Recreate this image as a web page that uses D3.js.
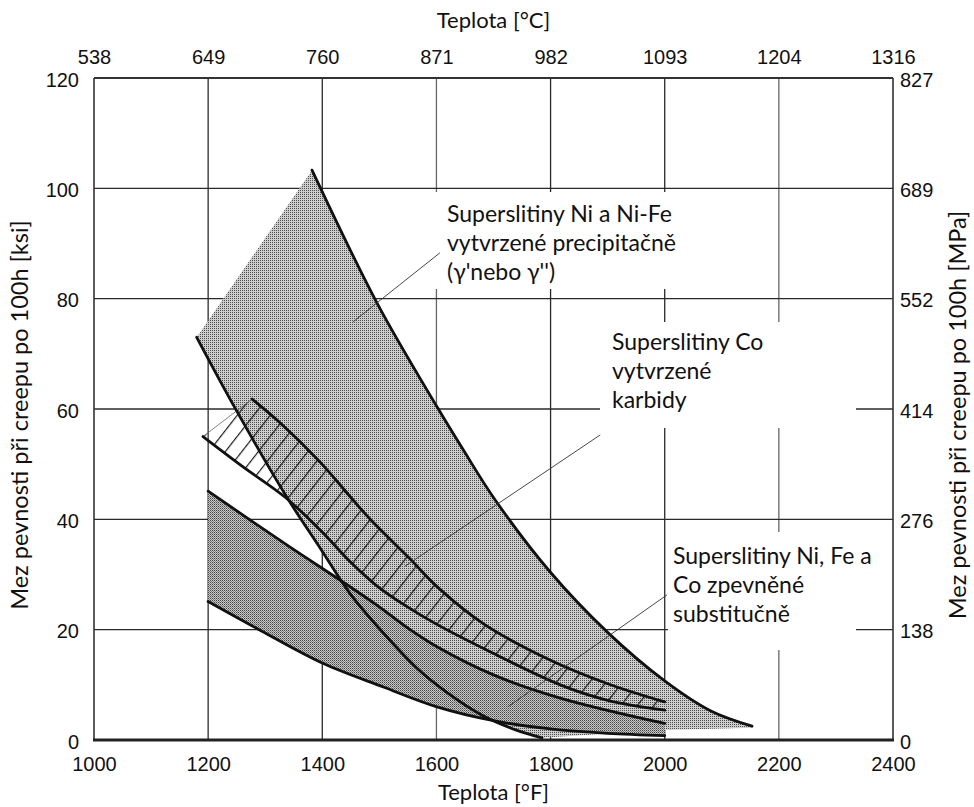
<!DOCTYPE html>
<html><head><meta charset="utf-8">
<script src="https://cdn.jsdelivr.net/npm/d3@7"></script>
<style>
html,body{margin:0;padding:0;background:#fff;}
svg{display:block;}
.tick text{font-family:"Liberation Sans",Arial,sans-serif;font-size:20px;fill:#111;}
.title{font-family:Lato,"Open Sans",sans-serif;font-size:22px;fill:#111;}
.vtitle{font-family:Lato,"Open Sans",sans-serif;font-size:23.5px;fill:#111;}
.ann{font-family:Lato,"Open Sans",sans-serif;font-size:23px;fill:#111;}
</style></head><body>
<svg id="chart" width="974" height="807"></svg>
<script>
// ---- axis ticks / labels ----
const fTicks = [1000,1200,1400,1600,1800,2000,2200,2400];
const cLabels = ["538","649","760","871","982","1093","1204","1316"];
const ksiTicks = [0,20,40,60,80,100,120];
const mpaLabels = ["0","138","276","414","552","689","827"];

// ---- curves (°F, ksi) ----
const niUpperF   = [1382,1496,1601,1647,1703,1799,1899,2000,2080,2153];
const niUpperKsi = [103.3,79.2,60.4,52.6,43.5,30.5,19.6,10.7,5.3,2.5];
const niBottomF   = [2153,2000];
const niBottomKsi = [2.2,1.8];
const steepF   = [1180,1247,1338,1395,1449,1507,1566,1620,1680,1740,1785];
const steepKsi = [73,60.2,44,35,26.5,19.4,13,8.5,4.5,1.8,0.4];
const coUpperF   = [1277,1326,1395,1454,1484,1554,1601,1682,1799,1900,2000];
const coUpperKsi = [61.8,57.5,50.5,43.5,40.0,32.8,27.8,21.1,14.5,10.2,6.9];
const coLowerF   = [1191,1260,1335,1396,1449,1495,1545,1600,1694,1817,1900,2000];
const coLowerKsi = [55,49.6,44,38.1,32.3,28,24.4,21,16,10,7.2,5.4];
const ssUpperF   = [1200,1343,1431,1495,1554,1601,1700,1817,2000];
const ssUpperKsi = [45.1,35,29,24.5,20,16.9,11.8,7.6,3.0];
const ssLowerF   = [1200,1291,1401,1507,1601,1700,1800,1900,2000];
const ssLowerKsi = [25.1,19.9,13.9,9.6,6.0,3.5,2.0,1.2,0.8];

// ---- annotations ----
const labelNi = ["Superslitiny Ni a Ni-Fe","vytvrzené precipitačně","(γ'nebo γ'')"];
const labelCo = ["Superslitiny Co","vytvrzené","karbidy"];
const labelSS = ["Superslitiny Ni, Fe a","Co zpevněné","substitučně"];
const leaderNiF = [1606,1454], leaderNiKsi = [88.3,75.8];
const leaderCoF = [1887,1545], leaderCoKsi = [55.3,31.5];
const leaderSSF = [2004,1725], leaderSSKsi = [26.3,6.0];

const svg = d3.select("#chart");
const L = 94, R = 893, T = 78, B = 740;
const x = d3.scaleLinear().domain([1000,2400]).range([L,R]);
const y = d3.scaleLinear().domain([0,120]).range([B,T]);

svg.append("rect").attr("width",974).attr("height",807).attr("fill","#fff");

// patterns
const defs = svg.append("defs");
const pNi = defs.append("pattern").attr("id","pNi").attr("patternUnits","userSpaceOnUse").attr("width",2).attr("height",2);
pNi.append("rect").attr("width",2).attr("height",2).attr("fill","#cdcdcd");
pNi.append("rect").attr("width",1).attr("height",1).attr("fill","#4e4e4e");
const pSS = defs.append("pattern").attr("id","pSS").attr("patternUnits","userSpaceOnUse").attr("width",2).attr("height",2);
pSS.append("rect").attr("width",2).attr("height",2).attr("fill","#c8c8c8");
pSS.append("rect").attr("width",1).attr("height",1).attr("fill","#444");
pSS.append("rect").attr("x",1).attr("y",1).attr("width",1).attr("height",1).attr("fill","#808080");
const pH = defs.append("pattern").attr("id","pH").attr("patternUnits","userSpaceOnUse")
  .attr("width",13).attr("height",13).attr("patternTransform","rotate(38)");
pH.append("line").attr("x1",0.6).attr("y1",0).attr("x2",0.6).attr("y2",13).attr("stroke","#1a1a1a").attr("stroke-width",1.2);

// gridlines
const grid = svg.append("g");
grid.selectAll(".vg").data(fTicks.slice(1,-1)).join("line")
  .attr("x1",d=>x(d)).attr("x2",d=>x(d)).attr("y1",T).attr("y2",B)
  .attr("stroke",d=>(d===1600||d===2200)?"#666":"#2a2a2a").attr("stroke-width",1.3);
grid.selectAll(".hg").data(ksiTicks.slice(1,-1)).join("line")
  .attr("y1",d=>y(d)).attr("y2",d=>y(d)).attr("x1",L).attr("x2",R)
  .attr("stroke","#2a2a2a").attr("stroke-width",1.3);

// white boxes behind labels
const boxes = [[435,192,277,97],[600,322,256,106],[668,532,188,118]];
svg.append("g").selectAll("rect").data(boxes).join("rect")
  .attr("x",d=>d[0]).attr("y",d=>d[1]).attr("width",d=>d[2]).attr("height",d=>d[3]).attr("fill","#fff");

const lineC = d3.line().curve(d3.curveCatmullRom.alpha(0.5));
const pts = (F,K)=>F.map((f,i)=>[x(f),y(K[i])]);
const seg = (F,K)=>lineC(pts(F,K));
const segRev = (F,K)=>lineC(pts(F,K).reverse()).replace(/^M/,"L");

// Ni region
const niPath = seg(niUpperF,niUpperKsi) + pts(niBottomF,niBottomKsi).map(p=>"L"+p[0]+","+p[1]).join("") + segRev(steepF,steepKsi) + "Z";
svg.append("path").attr("d",niPath).attr("fill","url(#pNi)");
// SS region
const ssPath = seg(ssUpperF,ssUpperKsi) + segRev(ssLowerF,ssLowerKsi) + "Z";
svg.append("path").attr("d",ssPath).attr("fill","url(#pSS)");
// Co region hatch
const coPath = seg(coUpperF,coUpperKsi) + segRev(coLowerF,coLowerKsi) + "Z";
svg.append("path").attr("d",coPath).attr("fill","url(#pH)");
svg.append("line").attr("x1",x(coLowerF[0])).attr("y1",y(coLowerKsi[0]))
  .attr("x2",x(coUpperF[0])).attr("y2",y(coUpperKsi[0])).attr("stroke","#666").attr("stroke-width",0.8);

// curves
const curves = [[niUpperF,niUpperKsi],[steepF,steepKsi],[coUpperF,coUpperKsi],[coLowerF,coLowerKsi],[ssUpperF,ssUpperKsi],[ssLowerF,ssLowerKsi]];
svg.append("g").selectAll("path").data(curves).join("path")
  .attr("d",d=>seg(d[0],d[1])).attr("fill","none").attr("stroke","#111").attr("stroke-width",2.8)
  .attr("stroke-linecap","round");

// leaders
const leaders = [[leaderNiF,leaderNiKsi],[leaderCoF,leaderCoKsi],[leaderSSF,leaderSSKsi]];
svg.append("g").selectAll("line").data(leaders).join("line")
  .attr("x1",d=>x(d[0][0])).attr("y1",d=>y(d[1][0])).attr("x2",d=>x(d[0][1])).attr("y2",d=>y(d[1][1]))
  .attr("stroke","#333").attr("stroke-width",0.9);

// annotation text
function ann(lines, px, py){
  const t = svg.append("text").attr("class","ann");
  lines.forEach((s,i)=>t.append("tspan").attr("x",px).attr("y",py+i*29).text(s));
}
ann(labelNi,447,222);
ann(labelCo,612,350);
ann(labelSS,673,564);

// frame
svg.append("line").attr("x1",L).attr("x2",L).attr("y1",T).attr("y2",B).attr("stroke","#333").attr("stroke-width",1.6);
svg.append("line").attr("x1",R).attr("x2",R).attr("y1",T).attr("y2",B).attr("stroke","#333").attr("stroke-width",1.6);
svg.append("line").attr("x1",L).attr("x2",R).attr("y1",T).attr("y2",T).attr("stroke","#333").attr("stroke-width",2);
svg.append("line").attr("x1",L-1).attr("x2",R+1).attr("y1",B).attr("y2",B).attr("stroke","#222").attr("stroke-width",3);

// axes
const ax = (g)=>{g.select(".domain").remove(); g.selectAll(".tick line").remove();};
svg.append("g").attr("transform",`translate(0,${B})`)
  .call(d3.axisBottom(x).tickValues(fTicks).tickFormat(d3.format("d")).tickSize(0).tickPadding(16.8)).call(ax);
svg.append("g").attr("transform",`translate(0,${T})`)
  .call(d3.axisTop(x).tickValues(fTicks).tickFormat((d,i)=>cLabels[i]).tickSize(0).tickPadding(14.5)).call(ax);
svg.append("g").attr("transform",`translate(${L},0)`)
  .call(d3.axisLeft(y).tickValues(ksiTicks).tickFormat(d3.format("d")).tickSize(0).tickPadding(15)).call(ax)
  .selectAll("text").attr("dy","8px");
svg.append("g").attr("transform",`translate(${R},0)`)
  .call(d3.axisRight(y).tickValues(ksiTicks).tickFormat((d,i)=>mpaLabels[i]).tickSize(0).tickPadding(7)).call(ax)
  .selectAll("text").attr("dy","8px");

// titles
svg.append("text").attr("class","title").attr("x",(L+R)/2).attr("y",28).attr("text-anchor","middle").text("Teplota [°C]");
svg.append("text").attr("class","title").attr("x",(L+R)/2).attr("y",800).attr("text-anchor","middle").text("Teplota [°F]");
svg.append("text").attr("class","vtitle").attr("transform",`translate(28,${(T+B)/2+6}) rotate(-90)`).attr("text-anchor","middle").text("Mez pevnosti při creepu po 100h [ksi]");
svg.append("text").attr("class","vtitle").attr("transform",`translate(966,${(T+B)/2+6}) rotate(-90)`).attr("text-anchor","middle").text("Mez pevnosti při creepu po 100h [MPa]");
</script>
</body></html>
